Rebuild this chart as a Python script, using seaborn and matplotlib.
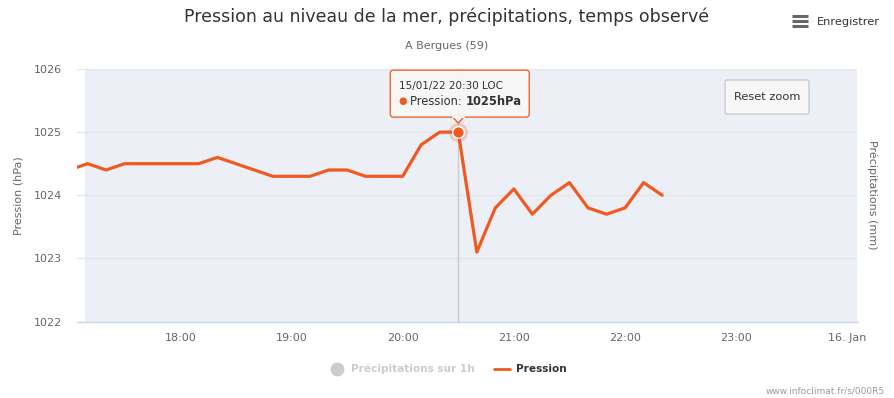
import matplotlib
matplotlib.use("Agg")
import matplotlib.pyplot as plt
import matplotlib.dates as mdates
from matplotlib.patches import FancyBboxPatch, Polygon
from matplotlib.lines import Line2D
from matplotlib.transforms import Affine2D, IdentityTransform
import numpy as np
import pandas as pd
import seaborn as sns

# Données (pas de 10 minutes, 15/01/22)
heures = ["17:00", "17:10", "17:20", "17:30", "17:40", "17:50",
          "18:00", "18:10", "18:20", "18:30", "18:40", "18:50",
          "19:00", "19:10", "19:20", "19:30", "19:40", "19:50",
          "20:00", "20:10", "20:20", "20:30", "20:40", "20:50",
          "21:00", "21:10", "21:20", "21:30", "21:40", "21:50",
          "22:00", "22:10", "22:20"]
pression = [1024.4, 1024.5, 1024.4, 1024.5, 1024.5, 1024.5,
            1024.5, 1024.5, 1024.6, 1024.5, 1024.4, 1024.3,
            1024.3, 1024.3, 1024.4, 1024.4, 1024.3, 1024.3,
            1024.3, 1024.8, 1025.0, 1025.0, 1023.1, 1023.8,
            1024.1, 1023.7, 1024.0, 1024.2, 1023.8, 1023.7,
            1023.8, 1024.2, 1024.0]
y_ticks = [1022, 1023, 1024, 1025, 1026]
x_ticks = ["18:00", "19:00", "20:00", "21:00", "22:00", "23:00", "00:00"]
x_labels = ["18:00", "19:00", "20:00", "21:00", "22:00", "23:00", "16. Jan"]
survol = "20:30"

ORANGE = "#ef5a21"
W, H = 895, 398

def to_dt(h):
    d = pd.Timestamp("2022-01-15 " + h)
    if h == "00:00":
        d += pd.Timedelta(days=1)
    return d

df = pd.DataFrame({"date": [to_dt(h) for h in heures], "pression": pression})

sns.set_style("white")
plt.rcParams["font.family"] = ["DejaVu Sans"]

fig = plt.figure(figsize=(W / 100, H / 100), dpi=100)
ax = fig.add_axes([77 / W, 1 - 321.5 / H, 780.5 / W, 252.5 / H])
ax.set_facecolor("white")

# bande de fond
x0 = to_dt("17:00") + pd.Timedelta(minutes=4.3)
x1 = to_dt("00:00") + pd.Timedelta(minutes=5.4)
ax.axvspan(to_dt("17:00") + pd.Timedelta(minutes=8.6), x1, color="#eceff6", zorder=0, lw=0)

for yt in y_ticks:
    ax.axhline(yt, color="#e6e6e6", lw=1, zorder=1)

sns.lineplot(data=df, x="date", y="pression", color=ORANGE, lw=2.3, ax=ax, zorder=3)

ax.set_xlim(x0, x1)
ax.set_ylim(1022, 1026)
ax.set_yticks(y_ticks)
ax.set_yticklabels([str(v) for v in y_ticks])
ax.set_xticks([to_dt(h) for h in x_ticks])
ax.set_xticklabels(x_labels)
ax.tick_params(axis="y", length=0, pad=11, labelsize=8, labelcolor="#666666")
ax.tick_params(axis="x", length=6.5, width=1, color="#ccd6eb", pad=1.5, labelsize=8, labelcolor="#666666")
for s in ["top", "right", "left"]:
    ax.spines[s].set_visible(False)
ax.spines["bottom"].set_color("#ccd6eb")
ax.spines["bottom"].set_linewidth(1)
ax.spines["bottom"].set_zorder(4)
ax.set_xlabel("")
ax.set_ylabel("Pression (hPa)", fontsize=8, color="#666666")
ax.yaxis.set_label_coords(-0.069, 0.5)
ax.text(1.0186, 0.5, "Précipitations (mm)", transform=ax.transAxes, rotation=270,
        ha="center", va="center", fontsize=8, color="#666666")

# point survolé + réticule
i = heures.index(survol)
xs, ys = df["date"][i], pression[i]
ax.axvline(xs, color="#cccccc", lw=1, zorder=2)
ax.scatter([xs], [ys], s=190, color=ORANGE, alpha=0.25, lw=0, zorder=4)
ax.scatter([xs], [ys], s=70, color=ORANGE, edgecolor="white", lw=1, zorder=5)

# titre
pxt = Affine2D().scale(1 / W, -1 / H).translate(0, 1) + fig.transFigure
fig.text(447, 17, "Pression au niveau de la mer, précipitations, temps observé",
         transform=pxt, ha="center", va="center", fontsize=12.5, color="#333333")
fig.text(447, 46, "A Bergues (59)", transform=pxt, ha="center", va="center",
         fontsize=8, color="#666666")

# bouton Enregistrer
for yy in (16, 21, 26):
    fig.add_artist(Line2D([792, 808], [yy, yy], transform=pxt, color="#666666", lw=2.2,
                          solid_capstyle="butt"))
fig.text(817, 22, "Enregistrer", transform=pxt, ha="left", va="center",
         fontsize=8.2, color="#333333")

# bouton Reset zoom
fig.add_artist(FancyBboxPatch((725, 80), 84, 34, transform=pxt,
                              boxstyle="round,pad=0,rounding_size=2",
                              fc="#f7f7f7", ec="#cccccc", lw=1))
fig.text(767, 97, "Reset zoom", transform=pxt, ha="center", va="center",
         fontsize=8.2, color="#333333")

# info-bulle ancrée sur le point survolé
fig.canvas.draw()
px, py = ax.transData.transform((mdates.date2num(xs), ys))
box = FancyBboxPatch((px - 68, py + 15), 139, 47, transform=IdentityTransform(),
                     boxstyle="round,pad=0,rounding_size=3",
                     fc="#f7f7f7", ec=ORANGE, lw=1, alpha=0.92, zorder=10)
fig.add_artist(box)
fig.add_artist(Polygon([[px - 6, py + 15.5], [px + 6, py + 15.5], [px, py + 9]],
                       closed=True, transform=IdentityTransform(),
                       fc="#f7f7f7", ec=ORANGE, lw=1, zorder=10))
fig.add_artist(Line2D([px - 5.5, px + 5.5], [py + 15.5, py + 15.5],
                      transform=IdentityTransform(), color="#f7f7f7", lw=1.5, zorder=11))
fig.text(px - 59, py + 46, "15/01/22 20:30 LOC", transform=IdentityTransform(),
         ha="left", va="center", fontsize=7.5, color="#333333", zorder=12)
fig.text(px - 60, py + 31, "●", transform=IdentityTransform(),
         ha="left", va="center", fontsize=7, color=ORANGE, zorder=12)
t1 = fig.text(px - 48, py + 31, "Pression: ", transform=IdentityTransform(),
              ha="left", va="center", fontsize=8.3, color="#333333", zorder=12)
fig.canvas.draw()
bb = t1.get_window_extent()
fig.text(bb.x1, py + 31, f"{ys:.0f}hPa", transform=IdentityTransform(),
         ha="left", va="center", fontsize=8.3, color="#333333", fontweight="bold", zorder=12)

# légende
handles = [Line2D([], [], marker="o", ls="", color="#cccccc", markersize=9),
           Line2D([], [], color=ORANGE, lw=2)]
leg = fig.legend(handles, ["Précipitations sur 1h", "Pression"], loc="center",
                 bbox_to_anchor=(0.5, 1 - 369 / H), ncol=2, frameon=False,
                 prop={"weight": "bold", "size": 7.6}, handlelength=1.6,
                 columnspacing=1.8, handletextpad=0.5)
leg.get_texts()[0].set_color("#cccccc")
leg.get_texts()[1].set_color("#333333")

fig.text(885, 391, "www.infoclimat.fr/s/000R5", transform=pxt, ha="right", va="center",
         fontsize=6.5, color="#999999")

fig.savefig("out.png", dpi=100)
